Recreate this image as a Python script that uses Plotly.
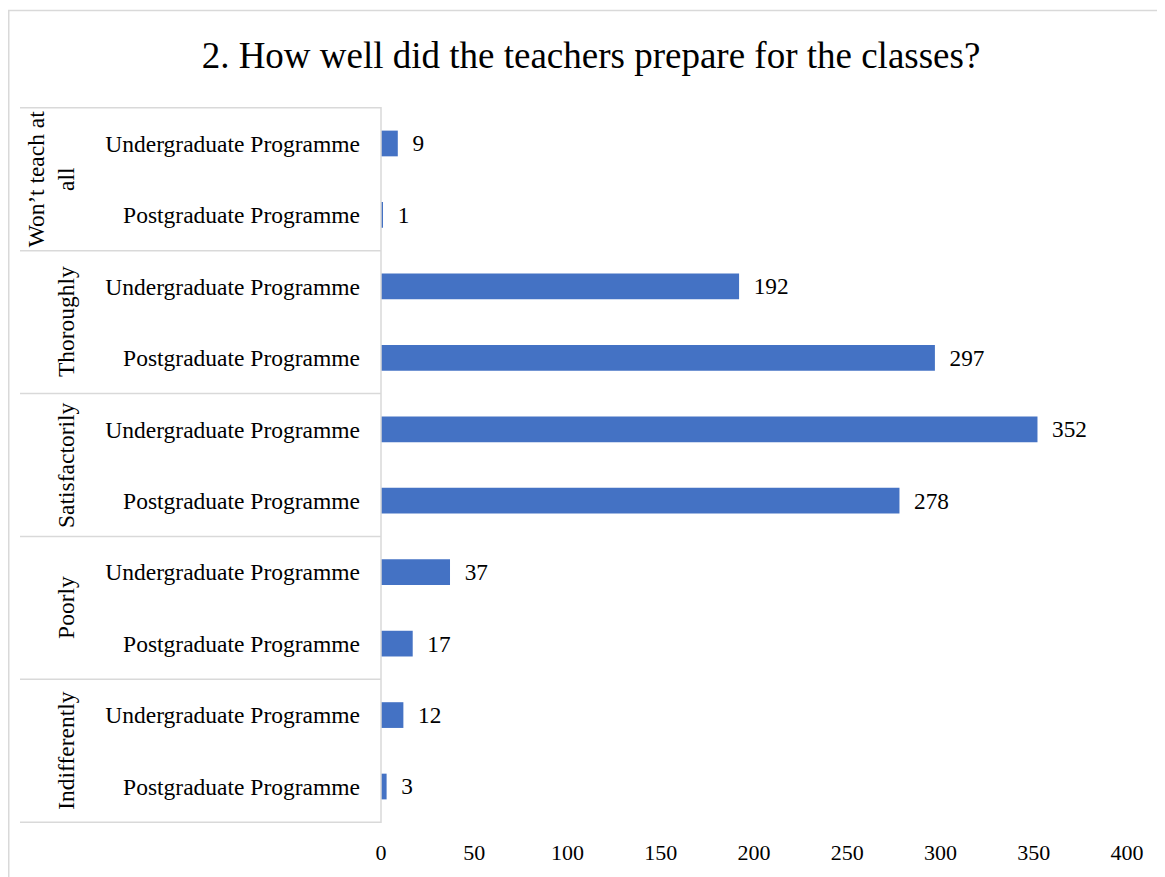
import plotly.graph_objects as go

groups = ["Won’t teach at<br>all", "Thoroughly", "Satisfactorily", "Poorly", "Indifferently"]
programmes = ["Undergraduate Programme", "Postgraduate Programme"]
undergrad = [9, 192, 352, 37, 12]
postgrad = [1, 297, 278, 17, 3]
x_ticks = [0, 50, 100, 150, 200, 250, 300, 350, 400]

OFF = 8  # page body margin
PW, PH = 1165, 877
W, H = PW - OFF, PH - OFF
# target pixel positions in page coordinates
PLOT_L, PLOT_R, PLOT_T, PLOT_B = 381, 1127, 107, 826
L, R, T, B = PLOT_L - OFF, PW - PLOT_R, PLOT_T - OFF, PH - PLOT_B
pw, ph = W - L - R, H - T - B

def px(xpage):
    return (xpage - PLOT_L) / pw

def py(ypage):
    return (PLOT_B - ypage) / ph

keys, labels, vals = [], [], []
for g, u, p in zip(groups, undergrad, postgrad):
    for prog, v in zip(programmes, [u, p]):
        keys.append(g + "|" + prog)
        labels.append(prog)
        vals.append(v)

FONT = "Liberation Serif"
LINE = "#D9D9D9"
FS = 23.5

fig = go.Figure(go.Bar(
    x=vals, y=keys, orientation="h",
    marker=dict(color="#4472C4", line=dict(width=0)),
    texttemplate="\u00a0\u00a0%{x}", textposition="outside",
    textfont=dict(family=FONT, size=FS, color="#000000"),
    cliponaxis=False,
))

shapes = []
# outer chart border
shapes.append(dict(type="rect", xref="paper", yref="paper",
                   x0=px(OFF + 0.75), x1=px(PW + 30), y0=py(PH + 30), y1=py(10),
                   line=dict(color=LINE, width=1.5), fillcolor="rgba(0,0,0,0)"))
# group boundary lines
for i in range(len(groups) + 1):
    yv = i * len(programmes) - 0.5
    shapes.append(dict(type="line", xref="paper", yref="y",
                       x0=px(20), x1=0, y0=yv, y1=yv,
                       line=dict(color=LINE, width=1.5)))
# vertical separator (axis line)
shapes.append(dict(type="line", xref="paper", yref="paper",
                   x0=0, x1=0, y0=0, y1=1, line=dict(color=LINE, width=1.5)))

annotations = []
for i, g in enumerate(groups):
    nlines = g.count("<br>") + 1
    annotations.append(dict(
        x=px(66 - (nlines - 1) * 15), xref="paper",
        y=i * len(programmes) + (len(programmes) - 1) / 2, yref="y",
        text=g, textangle=-90, showarrow=False,
        font=dict(family=FONT, size=FS, color="#000000"),
        xanchor="center", yanchor="middle", align="center"))

fig.update_layout(
    width=W, height=H,
    margin=dict(l=L, r=R, t=T, b=B),
    paper_bgcolor="white", plot_bgcolor="white",
    title=dict(text="2. How well did the teachers prepare for the classes?",
               x=px(591), xref="paper", xanchor="center", y=(H - (55 - OFF)) / H, yanchor="middle",
               font=dict(family=FONT, size=37, color="#000000")),
    bargap=0.64,
    showlegend=False,
    shapes=shapes,
    annotations=annotations,
    font=dict(family=FONT, size=FS, color="#000000"),
)
fig.update_xaxes(range=[0, 400], tickvals=x_ticks, ticktext=[str(t) for t in x_ticks],
                 showgrid=False, zeroline=False, showline=False, ticks="",
                 tickfont=dict(family=FONT, size=22, color="#000000"), ticklabelstandoff=14)
fig.update_yaxes(type="category", categoryarray=keys, categoryorder="array",
                 autorange="reversed", tickvals=keys, ticktext=labels,
                 showgrid=False, zeroline=False, showline=False, ticks="",
                 tickfont=dict(family=FONT, size=FS, color="#000000"), ticklabelstandoff=20)

fig.write_html("out.html")
